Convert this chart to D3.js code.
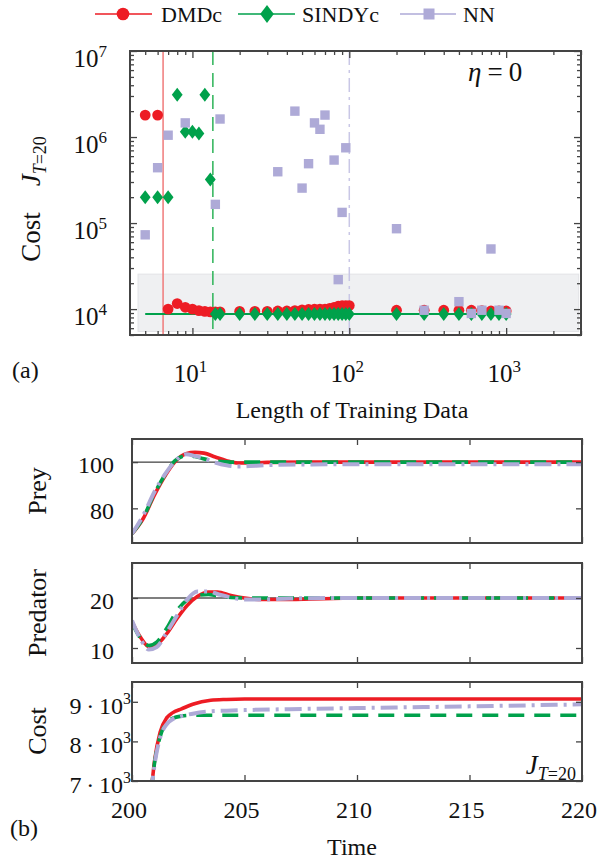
<!DOCTYPE html>
<html><head><meta charset="utf-8">
<script src="https://cdn.jsdelivr.net/npm/d3@7"></script>
<style>
body{margin:0;background:#fff}
svg{display:block}
text{font-family:"Liberation Serif","Times New Roman",serif;fill:#111}
</style></head>
<body><svg id="c" width="608" height="860"></svg>
<script>
// ---------------- data: panel (a) ----------------
const trainLen   = [5,6,7,8,9,10,11,12,13,14,15,20,25,30,35,40,45,50,55,60,65,70,75,80,85,90,95,100,200,300,400,500,600,700,800,900,1000];
const dmdcCost   = [1.8e6,1.8e6,1.0e4,1.16e4,1.05e4,1.0e4,9.6e3,9.4e3,9.3e3,9.3e3,9.3e3,9.4e3,9.4e3,9.4e3,9.5e3,9.5e3,9.6e3,9.8e3,9.9e3,1.0e4,1.0e4,1.0e4,1.02e4,1.05e4,1.08e4,1.1e4,1.1e4,1.1e4,9.7e3,9.7e3,9.7e3,9.7e3,9.7e3,9.6e3,9.5e3,9.5e3,9.5e3];
const sindycCost = [2.0e5,2.0e5,2.0e5,3.1e6,1.15e6,1.15e6,1.1e6,3.1e6,3.2e5,8.75e3,8.75e3,8.75e3,8.75e3,8.75e3,8.75e3,8.75e3,8.75e3,8.75e3,8.75e3,8.75e3,8.75e3,8.75e3,8.75e3,8.75e3,8.75e3,8.75e3,8.75e3,8.75e3,8.75e3,8.75e3,8.75e3,8.75e3,8.75e3,8.75e3,8.75e3,8.75e3,8.75e3];
const nnLen      = [5,6,7,9,14,15,35,45,50,55,60,65,70,80,85,90,95,200,300,500,600,700,800,900,1000];
const nnCost     = [7.3e4,4.4e5,1.05e6,1.46e6,1.65e5,1.62e6,3.95e5,2.0e6,2.55e5,4.9e5,1.46e6,1.23e6,1.8e6,5.4e5,2.2e4,1.33e5,7.5e5,8.6e4,9.7e3,1.22e4,8.9e3,9.7e3,5.0e4,9.7e3,8.9e3];
const refLineLen  = [5,1000];
const refLineCost = [8.75e3,8.75e3];
const thresholdLen = [6.5,13.5,100];           // DMDc, SINDYc, NN
const bandLen  = [4.5,2900];
const bandCost = [5.5e3,2.55e4];
const xTicksA = [10,100,1000];
const xExpA   = ["1","2","3"];
const yTicksA = [1e4,1e5,1e6,1e7];
const yExpA   = ["4","5","6","7"];
const seriesNames = ["DMDc","SINDYc","NN"];

// ---------------- data: panel (b) ----------------
const tPrey   = [200,200.5,201,201.5,201.9,202.4,202.8,203.2,203.7,204.2,204.7,205.2,206,208,212,216,220];
const preyD   = [69,75.6,85.8,94.5,100,103.6,104.2,103.9,102.2,100.6,99.6,99.6,99.9,100,100,100,100];
const preyS   = [69,76,86.5,95,100.5,102.7,102.4,101.4,100.5,100.1,100,100,100,100,100,100,100];
const preyN   = [69,77,87.2,95.2,100.3,103.4,102.6,101.6,99.8,98.6,98.1,98.3,98.7,99.0,99.1,99.1,99.1];
const tPred   = [200,200.4,200.75,201.1,201.55,202,202.45,202.9,203.4,203.8,204.4,205,205.8,207,210,215,220];
const predD   = [15.2,12.0,10.3,10.7,12.9,15.9,18.5,20.3,21.2,21.2,20.5,20.0,19.7,19.7,20,20,20];
const predS   = [15.0,11.8,10.5,11.2,14.0,17.5,19.6,20.5,20.7,20.4,20.1,20.0,20,20,20,20,20];
const predN   = [15.5,11.6,9.7,10.2,13.2,16.5,19.7,21.3,21.3,20.8,20.1,19.7,19.7,19.9,20,20,20];
const tCost   = [200.85,201,201.25,201.55,201.8,202.2,202.7,203.5,204.2,205,207,210,215,220];
const costD   = [6700,7500,8230,8600,8720,8820,8940,9040,9060,9070,9070,9070,9070,9070];
const costS   = [6700,7450,8120,8480,8580,8640,8660,8660,8660,8660,8660,8660,8660,8660];
const costN   = [6700,7400,8100,8440,8560,8640,8700,8760,8775,8790,8815,8842,8885,8935];
const tTicks  = [200,205,210,215,220];
const preyTicks = [80,100];
const predTicks = [10,20];
const costTicks = [7000,8000,9000];
const costTickMant = ["7","8","9"];

// ---------------- styles ----------------
const RED="#ed1c24", GREEN="#00a14b", LAV="#aeaad7", FRAME="#444";
const svg = d3.select("#c");

// ================= Panel (a) =================
const A = {l:130, r:581, t:51, b:335};
const xA = d3.scaleLog().domain([4,3000]).range([A.l,A.r]);
const yA = d3.scaleLog().domain([5000,1e7]).range([A.b,A.t]);
svg.append("clipPath").attr("id","clipA").append("rect")
  .attr("x",A.l).attr("y",A.t).attr("width",A.r-A.l).attr("height",A.b-A.t);
const gA = svg.append("g").attr("clip-path","url(#clipA)");

gA.append("rect")
  .attr("x",xA(bandLen[0])).attr("y",yA(bandCost[1]))
  .attr("width",xA(bandLen[1])-xA(bandLen[0])).attr("height",yA(bandCost[0])-yA(bandCost[1]))
  .attr("fill","#eff0f2").attr("stroke","#e2e3e6").attr("stroke-width",1);

const thrStyle = [{c:"#f07a7a",d:null},{c:"#2db357",d:"14,8"},{c:"#c9c7e6",d:"14,5,3,5"}];
thresholdLen.forEach((v,i)=>{
  gA.append("line").attr("x1",xA(v)).attr("x2",xA(v)).attr("y1",A.t).attr("y2",A.b)
    .attr("stroke",thrStyle[i].c).attr("stroke-width",1.5)
    .attr("stroke-dasharray",thrStyle[i].d);
});
gA.append("path")
  .attr("d",d3.line().x((d,i)=>xA(refLineLen[i])).y((d,i)=>yA(refLineCost[i]))(refLineLen))
  .attr("stroke",GREEN).attr("stroke-width",2).attr("fill","none");

gA.selectAll("circle.d").data(trainLen).join("circle")
  .attr("cx",d=>xA(d)).attr("cy",(d,i)=>yA(dmdcCost[i])).attr("r",5.4).attr("fill",RED);
const diamond = (cx,cy,w,h)=>`M${cx},${cy-h}L${cx+w},${cy}L${cx},${cy+h}L${cx-w},${cy}Z`;
gA.selectAll("path.s").data(trainLen).join("path")
  .attr("d",(d,i)=>diamond(xA(d),yA(sindycCost[i]),5.4,7)).attr("fill",GREEN);
gA.selectAll("rect.n").data(nnLen).join("rect")
  .attr("x",d=>xA(d)-4.7).attr("y",(d,i)=>yA(nnCost[i])-4.7)
  .attr("width",9.4).attr("height",9.4).attr("fill",LAV);

// axes / ticks (inward, mirrored)
function tickAxis(g, axisFn, scale, vals, size){
  g.call(axisFn(scale).tickValues(vals).tickSize(size).tickFormat(""))
   .call(s=>s.select(".domain").remove())
   .call(s=>s.selectAll("line").attr("stroke",FRAME).attr("stroke-width",1.3));
}
const xMinorA = [5,6,7,8,9,20,30,40,50,60,70,80,90,200,300,400,500,600,700,800,900,2000,3000];
const yMinorA = [];
[1e3,1e4,1e5,1e6].forEach(dec=>[2,3,4,5,6,7,8,9].forEach(m=>{const v=dec*m; if(v>=5000&&v<=1e7) yMinorA.push(v);}));
tickAxis(svg.append("g").attr("transform",`translate(0,${A.b})`), d3.axisBottom, xA, xTicksA, -7);
tickAxis(svg.append("g").attr("transform",`translate(0,${A.b})`), d3.axisBottom, xA, xMinorA, -4);
tickAxis(svg.append("g").attr("transform",`translate(0,${A.t})`), d3.axisTop, xA, xTicksA, -7);
tickAxis(svg.append("g").attr("transform",`translate(0,${A.t})`), d3.axisTop, xA, xMinorA, -4);
tickAxis(svg.append("g").attr("transform",`translate(${A.l},0)`), d3.axisLeft, yA, yTicksA, -7);
tickAxis(svg.append("g").attr("transform",`translate(${A.l},0)`), d3.axisLeft, yA, yMinorA, -4);
tickAxis(svg.append("g").attr("transform",`translate(${A.r},0)`), d3.axisRight, yA, yTicksA, -7);
tickAxis(svg.append("g").attr("transform",`translate(${A.r},0)`), d3.axisRight, yA, yMinorA, -4);
svg.append("rect").attr("x",A.l).attr("y",A.t).attr("width",A.r-A.l).attr("height",A.b-A.t)
  .attr("fill","none").attr("stroke",FRAME).attr("stroke-width",2);

function powLabel(sel, base, exp){
  sel.append("tspan").text(base);
  sel.append("tspan").attr("dy",-10).attr("font-size",17).text(exp);
}
xTicksA.forEach((v,i)=>{
  const t = svg.append("text").attr("x",xA(v)-2).attr("y",382).attr("text-anchor","middle").attr("font-size",25);
  powLabel(t,"10",xExpA[i]);
});
yTicksA.forEach((v,i)=>{
  const t = svg.append("text").attr("x",107).attr("y",yA(v)+16).attr("text-anchor","end").attr("font-size",25);
  powLabel(t,"10",yExpA[i]);
});
// y label: Cost  J_{T=20}
{
  const t = svg.append("text").attr("transform","translate(40,199) rotate(-90)")
    .attr("text-anchor","middle").attr("font-size",27);
  t.append("tspan").text("Cost");
  t.append("tspan").attr("dx",26).attr("font-style","italic").text("J");
  t.append("tspan").attr("dy",6).attr("font-size",18).attr("font-style","italic").text("T");
  t.append("tspan").attr("font-size",18).text("=20");
}
svg.append("text").attr("x",352).attr("y",418).attr("text-anchor","middle").attr("font-size",24).text("Length of Training Data");
svg.append("text").attr("x",12).attr("y",378).attr("font-size",24).text("(a)");
{
  const t = svg.append("text").attr("x",468).attr("y",81).attr("font-size",27);
  t.append("tspan").attr("font-style","italic").text("η");
  t.append("tspan").attr("dx",6).text("=");
  t.append("tspan").attr("dx",6).text("0");
}

// legend
const legItems = [
  {name:seriesNames[0], x1:95, x2:152, mx:123, tx:161, c:RED, m:"circle"},
  {name:seriesNames[1], x1:238, x2:295, mx:267, tx:302, c:GREEN, m:"diamond"},
  {name:seriesNames[2], x1:400, x2:456, mx:429, tx:463, c:LAV, m:"square"}
];
const LY = 14;
legItems.forEach(it=>{
  svg.append("line").attr("x1",it.x1).attr("x2",it.x2).attr("y1",LY).attr("y2",LY).attr("stroke",it.c).attr("stroke-width",1.5);
  if(it.m==="circle") svg.append("circle").attr("cx",it.mx).attr("cy",LY).attr("r",6.3).attr("fill",it.c);
  if(it.m==="diamond") svg.append("path").attr("d",diamond(it.mx,LY,6.8,9)).attr("fill",it.c);
  if(it.m==="square") svg.append("rect").attr("x",it.mx-5.5).attr("y",LY-5.5).attr("width",11).attr("height",11).attr("fill",it.c);
  svg.append("text").attr("x",it.tx).attr("y",LY+8).attr("font-size",22).text(it.name);
});

// ================= Panel (b) =================
const BX = {l:132, r:582};
const xB = d3.scaleLinear().domain([200,220]).range([BX.l,BX.r]);
const panels = [
  {id:"prey", t:439, b:543, dom:[65,110], ts:tPrey, D:preyD, S:preyS, N:preyN, ticks:preyTicks, ref:100, refC:"#111", refW:1, label:"Prey", labY:491},
  {id:"pred", t:563, b:663, dom:[7,27], ts:tPred, D:predD, S:predS, N:predN, ticks:predTicks, ref:20, refC:"#555", refW:1.5, label:"Predator", labY:613},
  {id:"cost", t:682, b:781, dom:[7000,9500], ts:tCost, D:costD, S:costS, N:costN, ticks:costTicks, ref:null, label:"Cost", labY:731}
];
panels.forEach(p=>{
  const y = d3.scaleLinear().domain(p.dom).range([p.b,p.t]);
  svg.append("clipPath").attr("id","clip"+p.id).append("rect")
    .attr("x",BX.l).attr("y",p.t).attr("width",BX.r-BX.l).attr("height",p.b-p.t);
  const g = svg.append("g").attr("clip-path",`url(#clip${p.id})`);
  if(p.ref!==null){
    g.append("line").attr("x1",BX.l).attr("x2",BX.r).attr("y1",y(p.ref)).attr("y2",y(p.ref))
      .attr("stroke",p.refC).attr("stroke-width",p.refW);
  }
  const line = d3.line().x((d,i)=>xB(p.ts[i])).y(d=>y(d)).curve(d3.curveMonotoneX);
  g.append("path").attr("d",line(p.D)).attr("fill","none").attr("stroke",RED).attr("stroke-width",3.6);
  g.append("path").attr("d",line(p.S)).attr("fill","none").attr("stroke",GREEN).attr("stroke-width",3.6).attr("stroke-dasharray","16,10");
  g.append("path").attr("d",line(p.N)).attr("fill","none").attr("stroke",LAV).attr("stroke-width",4).attr("stroke-dasharray","17,6,3,6");

  tickAxis(svg.append("g").attr("transform",`translate(0,${p.b})`), d3.axisBottom, xB, tTicks, -6);
  tickAxis(svg.append("g").attr("transform",`translate(0,${p.t})`), d3.axisTop, xB, tTicks, -6);
  tickAxis(svg.append("g").attr("transform",`translate(${BX.l},0)`), d3.axisLeft, y, p.ticks, -6);
  tickAxis(svg.append("g").attr("transform",`translate(${BX.r},0)`), d3.axisRight, y, p.ticks, -6);
  svg.append("rect").attr("x",BX.l).attr("y",p.t).attr("width",BX.r-BX.l).attr("height",p.b-p.t)
    .attr("fill","none").attr("stroke",FRAME).attr("stroke-width",2);

  p.ticks.forEach((v,i)=>{
    if(p.id==="cost"){
      const t = svg.append("text").attr("x",131).attr("y",y(v)+12).attr("text-anchor","end").attr("font-size",24);
      t.append("tspan").text(costTickMant[i]+"\u2009\u00b7\u200910");
      t.append("tspan").attr("dy",-10).attr("font-size",16).text("3");
    } else {
      svg.append("text").attr("x",114).attr("y",y(v)+11).attr("text-anchor","end").attr("font-size",24).text(v);
    }
  });
  svg.append("text").attr("transform",`translate(46,${p.labY}) rotate(-90)`).attr("text-anchor","middle")
    .attr("font-size",26).text(p.label);
});
tTicks.forEach(v=>{
  svg.append("text").attr("x",xB(v)-3).attr("y",818).attr("text-anchor","middle").attr("font-size",24).text(v);
});
{
  const t = svg.append("text").attr("x",576).attr("y",774).attr("text-anchor","end").attr("font-size",27);
  t.append("tspan").attr("font-style","italic").text("J");
  t.append("tspan").attr("dy",6).attr("font-size",18).attr("font-style","italic").text("T");
  t.append("tspan").attr("font-size",18).text("=20");
}
svg.append("text").attr("x",352).attr("y",855).attr("text-anchor","middle").attr("font-size",24).text("Time");
svg.append("text").attr("x",10).attr("y",836).attr("font-size",24).text("(b)");
</script>
</body></html>
